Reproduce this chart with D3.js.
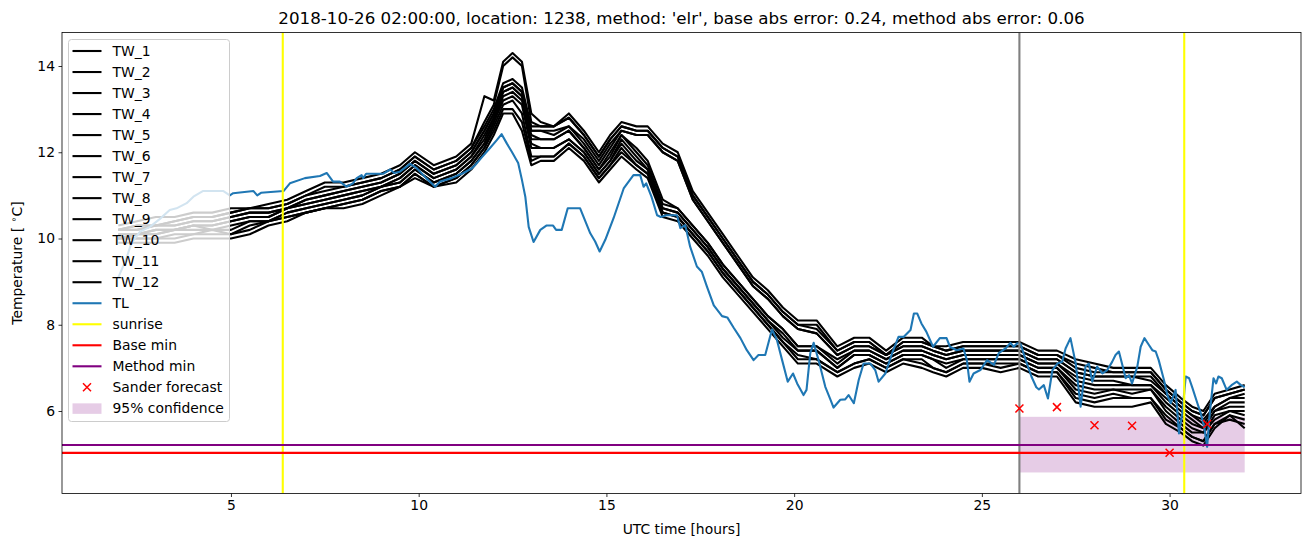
<!DOCTYPE html>
<html><head><meta charset="utf-8">
<script src="https://cdn.jsdelivr.net/npm/d3@7"></script>
<style>body{margin:0;background:#fff}svg{display:block}text{font-family:"DejaVu Sans",sans-serif;fill:#000}</style>
</head><body><svg id="c" width="1310" height="547"></svg>
<script>
// ---------------- data ----------------
const titleText = "2018-10-26 02:00:00, location: 1238, method: 'elr', base abs error: 0.24, method abs error: 0.06";
const xTicks = [5, 10, 15, 20, 25, 30];
const yTicks = [6, 8, 10, 12, 14];

const twHours = [2,2.5,3,3.5,4,4.5,5,5.5,6,6.5,7,7.5,8,8.5,9,9.5,9.9,10.4,11,11.4,11.75,12,12.25,12.5,12.75,13,13.25,13.6,14,14.4,14.8,15.1,15.4,15.8,16.1,16.5,16.9,17.3,17.7,18.1,18.5,18.9,19.3,19.7,20.1,20.6,21.15,21.6,22.0,22.45,22.9,23.4,23.7,24.05,24.5,25,25.5,26,26.5,27,27.5,28,28.5,29,29.5,29.9,30.3,30.6,30.9,31.2,31.6,32];
const tw1 = [10.3,10.4,10.5,10.5,10.6,10.6,10.7,10.7,10.8,10.9, 11.1,11.3,11.3,11.4,11.5,11.7,12.0,11.7,11.9,12.2, 13.3,13.2,14.1,14.3,14.1,12.9,12.7,12.6,12.9,12.5, 12.0,12.4,12.7,12.6,12.6,12.2,12.0,11.1,10.6,10.1, 9.6,9.1,8.8,8.4,8.1,8.1,7.5,7.7,7.7,7.4, 7.7,7.7,7.5,7.5,7.6,7.6,7.6,7.6,7.4,7.4, 7.2,7.1,7.0,7.0,7.0,6.6,6.3,6.1,6.0,6.4, 6.5,6.6];
const tw2 = [10.2,10.3,10.3,10.4,10.5,10.5,10.6,10.7,10.7,10.8, 11.0,11.2,11.2,11.3,11.4,11.6,11.9,11.6,11.8,12.1, 12.7,13.1,14.0,14.2,14.0,12.7,12.6,12.6,12.8,12.4, 11.9,12.3,12.6,12.5,12.5,12.1,11.9,11.0,10.5,10.0, 9.5,9.0,8.7,8.3,8.0,8.0,7.4,7.6,7.6,7.3, 7.6,7.6,7.5,7.4,7.5,7.5,7.5,7.5,7.3,7.3, 7.1,7.0,6.9,6.9,6.9,6.5,6.2,6.0,5.9,6.3, 6.4,6.5];
const tw3 = [10.2,10.3,10.3,10.4,10.5,10.5,10.6,10.7,10.7,10.8, 11.0,11.1,11.2,11.3,11.4,11.6,11.9,11.6,11.8,12.1, 12.6,13.0,13.6,13.7,13.5,12.6,12.6,12.6,12.8,12.4, 11.9,12.3,12.6,12.5,12.5,12.1,11.9,11.0,10.5,10.0, 9.5,9.0,8.7,8.3,8.0,7.9,7.4,7.6,7.6,7.3, 7.6,7.6,7.5,7.4,7.5,7.5,7.5,7.5,7.3,7.3, 7.0,6.9,6.9,6.9,6.9,6.5,6.2,6.0,5.9,6.3, 6.4,6.5];
const tw4 = [10.2,10.2,10.3,10.3,10.4,10.4,10.5,10.6,10.6,10.7, 10.9,11.0,11.1,11.2,11.3,11.5,11.8,11.5,11.7,12.0, 12.5,12.9,13.5,13.6,13.4,12.5,12.5,12.5,12.6,12.3, 11.8,12.2,12.5,12.4,12.4,12.0,11.8,10.9,10.4,9.9, 9.4,8.9,8.6,8.2,7.9,7.8,7.3,7.5,7.5,7.3, 7.5,7.5,7.4,7.3,7.4,7.4,7.4,7.4,7.2,7.2, 6.9,6.8,6.8,6.8,6.8,6.4,6.1,5.9,5.8,6.1, 6.3,6.4];
const tw5 = [10.2,10.2,10.3,10.3,10.4,10.4,10.5,10.6,10.6,10.7, 10.9,11.0,11.1,11.2,11.3,11.5,11.8,11.5,11.7,12.0, 12.5,12.9,13.5,13.6,13.4,12.5,12.5,12.4,12.6,12.2, 11.7,12.1,12.5,12.4,12.4,12.0,11.8,10.9,10.4,9.9, 9.4,8.9,8.6,8.2,7.9,7.8,7.3,7.5,7.5,7.3, 7.5,7.5,7.4,7.3,7.4,7.4,7.4,7.4,7.2,7.2, 6.9,6.8,6.8,6.8,6.7,6.4,6.1,5.9,5.7,6.1, 6.3,6.3];
const tw6 = [10.1,10.1,10.2,10.2,10.3,10.3,10.4,10.5,10.5,10.7, 10.8,10.9,11.0,11.1,11.2,11.4,11.7,11.4,11.6,11.9, 12.4,12.8,13.4,13.5,13.3,12.4,12.3,12.3,12.5,12.1, 11.6,12.0,12.4,12.1,11.8,10.9,10.7,10.3,9.9,9.4, 9.0,8.6,8.2,7.9,7.5,7.5,7.2,7.4,7.4,7.2, 7.4,7.4,7.3,7.2,7.3,7.3,7.3,7.3,7.1,7.1, 6.8,6.7,6.7,6.6,6.6,6.3,6.0,5.8,5.6,6.0, 6.2,6.2];
const tw7 = [10.1,10.1,10.2,10.2,10.3,10.3,10.4,10.5,10.5,10.7, 10.8,10.9,11.0,11.1,11.2,11.4,11.7,11.4,11.6,11.9, 12.3,12.8,13.4,13.5,13.3,12.3,12.3,12.3,12.5,12.1, 11.6,11.9,12.4,12.0,11.7,10.8,10.7,10.3,9.9,9.4, 9.0,8.6,8.2,7.9,7.5,7.5,7.1,7.4,7.4,7.2, 7.4,7.4,7.3,7.2,7.3,7.3,7.3,7.3,7.1,7.1, 6.7,6.6,6.6,6.6,6.6,6.2,5.9,5.7,5.6,6.0, 6.1,6.1];
const tw8 = [10.0,10.1,10.1,10.2,10.3,10.2,10.3,10.4,10.4,10.6, 10.7,10.8,10.9,11.0,11.2,11.3,11.6,11.3,11.5,11.8, 12.2,12.7,13.3,13.4,13.2,12.2,12.1,12.1,12.3,12.0, 11.5,11.8,12.3,11.9,11.6,10.7,10.6,10.2,9.8,9.3, 8.9,8.5,8.1,7.8,7.4,7.4,7.0,7.3,7.3,7.1, 7.3,7.3,7.2,7.1,7.2,7.2,7.2,7.2,7.0,7.0, 6.6,6.5,6.5,6.5,6.5,6.1,5.8,5.6,5.5,5.9, 6.0,6.0];
const tw9 = [10.0,10.1,10.1,10.2,10.2,10.2,10.2,10.4,10.4,10.6, 10.7,10.8,10.9,11.0,11.2,11.3,11.6,11.3,11.5,11.8, 12.2,12.7,13.2,13.3,13.1,12.1,12.1,12.1,12.3,12.0, 11.5,11.8,12.2,11.8,11.6,10.7,10.6,10.2,9.8,9.3, 8.9,8.5,8.1,7.7,7.4,7.4,7.0,7.3,7.3,7.1, 7.3,7.3,7.2,7.0,7.2,7.2,7.2,7.2,7.0,7.0, 6.5,6.4,6.5,6.4,6.5,6.0,5.7,5.5,5.5,5.8, 6.0,5.9];
const tw10 = [10.0,10.0,10.0,10.1,10.1,10.2,10.1,10.3,10.4,10.5, 10.6,10.7,10.8,10.9,11.1,11.2,11.5,11.2,11.4,11.7, 12.1,12.6,13.1,13.2,12.9,11.9,11.9,11.9,12.2,11.9, 11.4,11.7,12.1,11.7,11.5,10.6,10.5,10.1,9.7,9.2, 8.8,8.4,8.0,7.6,7.3,7.2,6.9,7.1,7.2,7.0, 7.2,7.2,7.0,6.9,7.1,7.1,7.1,7.1,6.9,6.9, 6.4,6.3,6.4,6.3,6.3,5.9,5.6,5.4,5.3,5.7, 5.9,5.8];
const tw11 = [10.0,10.0,10.0,10.0,10.1,10.1,10.1,10.2,10.4,10.5, 10.6,10.7,10.8,10.9,11.1,11.2,11.5,11.2,11.4,11.7, 12.1,12.5,13.0,13.0,12.7,11.8,11.9,11.9,12.2,11.9, 11.4,11.7,12.0,11.7,11.5,10.6,10.5,10.1,9.7,9.2, 8.8,8.4,8.0,7.6,7.2,7.2,6.9,7.1,7.2,7.0, 7.2,7.1,7.0,6.9,7.1,7.1,7.0,7.1,6.9,6.9, 6.3,6.2,6.3,6.3,6.3,5.8,5.6,5.4,5.3,5.7, 5.8,5.7];
const tw12 = [9.9,9.9,9.9,9.9,10.0,10.0,10.0,10.1,10.3,10.4, 10.6,10.7,10.7,10.8,11.0,11.2,11.4,11.2,11.3,11.6, 12.0,12.4,12.9,12.9,12.5,11.7,11.8,11.8,12.1,11.8, 11.3,11.6,11.9,11.6,11.4,10.5,10.4,10.0,9.6,9.1, 8.7,8.3,7.9,7.5,7.1,7.1,6.8,7.0,7.1,6.9, 7.1,7.0,6.9,6.8,7.0,7.0,6.9,7.0,6.8,6.8, 6.2,6.1,6.1,6.1,6.2,5.7,5.5,5.3,5.2,5.6, 5.9,5.6];

const tlHours = [2.0,2.2,2.35,2.58,2.84,3.1,3.37,3.55,3.82,4.0,4.25,4.8,4.97,5.06,5.6,5.7,5.8,6.4,6.57,6.97,7.37,7.55,7.72,7.9,8.08,8.25,8.35,8.48,8.52,8.6,9.05,9.24,9.35,9.5,9.77,9.95,10.2,10.44,10.57,10.88,11.19,11.42,11.5,11.68,11.9,12.08,12.21,12.35,12.48,12.65,12.75,12.84,12.93,13.06,13.24,13.4,13.58,13.66,13.81,13.97,14.3,14.57,14.7,14.82,14.97,15.19,15.46,15.72,15.9,15.99,16.06,16.2,16.35,16.45,16.6,16.88,16.97,17.1,17.23,17.41,17.54,17.68,17.86,18.08,18.22,18.39,18.57,18.74,18.92,19.05,19.23,19.41,19.54,19.68,19.83,19.97,20.08,20.25,20.33,20.43,20.52,20.65,20.83,20.97,21.05,21.23,21.36,21.45,21.59,21.72,21.85,22.03,22.16,22.25,22.43,22.61,22.78,22.92,23.1,23.19,23.28,23.39,23.52,23.7,23.88,24.06,24.15,24.33,24.51,24.6,24.67,24.78,24.96,25.14,25.32,25.45,25.63,25.76,25.85,25.94,26.03,26.16,26.32,26.45,26.52,26.65,26.76,26.88,27.01,27.14,27.23,27.36,27.5,27.63,27.76,27.85,27.94,28.07,28.21,28.34,28.47,28.56,28.65,28.74,28.83,28.92,29.0,29.14,29.23,29.33,29.45,29.54,29.63,29.71,29.85,29.94,30.03,30.16,30.25,30.34,30.43,30.52,30.61,30.74,30.83,30.92,31.0,31.07,31.17,31.24,31.3,31.39,31.52,31.65,31.79,31.9,32.0];
const tlTemp = [9.1,9.5,9.9,10.16,10.27,10.45,10.66,10.7,10.82,10.97,11.1,11.1,11.0,11.05,11.1,11.0,11.06,11.1,11.28,11.4,11.45,11.52,11.32,11.32,11.2,11.28,11.4,11.47,11.4,11.5,11.5,11.6,11.52,11.55,11.73,11.63,11.4,11.2,11.32,11.4,11.52,11.63,11.7,11.88,12.1,12.28,12.42,12.2,12.01,11.75,11.36,10.97,10.27,9.92,10.2,10.3,10.3,10.2,10.2,10.7,10.7,10.12,9.93,9.7,9.97,10.47,11.16,11.47,11.47,11.2,11.28,10.97,10.54,10.5,10.54,10.54,10.24,10.31,9.81,9.35,9.23,8.88,8.45,8.2,8.17,7.93,7.69,7.41,7.18,7.3,7.3,7.89,7.65,7.18,6.68,6.87,6.64,6.37,6.49,7.34,7.58,7.18,6.56,6.26,6.08,6.26,6.27,6.37,6.18,6.72,7.1,7.1,6.95,6.68,6.87,7.34,7.72,7.72,7.88,8.26,8.26,8.03,7.84,7.49,7.69,7.69,7.49,7.41,7.45,7.18,6.68,6.87,6.95,7.18,7.07,7.34,7.45,7.58,7.49,7.57,7.56,7.2,6.8,6.55,6.5,6.6,6.29,6.95,7.1,7.14,7.45,7.69,7.1,6.1,7.03,7.1,6.68,7.03,6.87,6.95,7.14,7.3,7.38,7.07,6.76,6.83,6.64,7.03,7.49,7.69,7.53,7.41,7.38,7.18,6.72,6.37,6.18,6.49,5.48,5.95,6.8,6.76,6.53,6.18,5.95,5.64,5.17,5.95,6.76,6.64,6.8,6.76,6.49,6.6,6.68,6.6,6.55];

const sunriseHours = [6.38, 30.39];
const forecastStartHour = 26;
const baseMin = 5.03;
const methodMin = 5.21;
const sanderHours = [26, 27, 28, 29, 30, 31];
const sanderTemp = [6.06, 6.09, 5.67, 5.66, 5.03, 5.70];
const confHours = [26, 32];
const confLow = 4.575, confHigh = 5.865;

const legendLabels = ["TW_1","TW_2","TW_3","TW_4","TW_5","TW_6","TW_7","TW_8","TW_9","TW_10","TW_11","TW_12","TL","sunrise","Base min","Method min","Sander forecast","95% confidence"];

// ---------------- drawing ----------------
const twSeries = [tw1,tw2,tw3,tw4,tw5,tw6,tw7,tw8,tw9,tw10,tw11,tw12];
const L = 62, R = 1301, T = 32.5, B = 493.5;
const svg = d3.select("#c");
const x = d3.scaleLinear().domain([0.5, 33.5]).range([L, R]);
const y = d3.scaleLinear().domain([4.087, 14.777]).range([B, T]);

svg.append("defs").append("clipPath").attr("id","clip")
  .append("rect").attr("x",L).attr("y",T).attr("width",R-L).attr("height",B-T);
const plot = svg.append("g").attr("clip-path","url(#clip)");

plot.append("rect")
  .attr("x", x(confHours[0])).attr("width", x(confHours[1]) - x(confHours[0]))
  .attr("y", y(confHigh)).attr("height", y(confLow) - y(confHigh))
  .attr("fill", "#800080").attr("fill-opacity", 0.2);

const line = d3.line();
twSeries.forEach(s => {
  plot.append("path")
    .attr("d", line(s.map((v,i)=>[x(twHours[i]), y(v)])))
    .attr("fill","none").attr("stroke","#000").attr("stroke-width",2.1)
    .attr("stroke-linejoin","round");
});
plot.append("path")
  .attr("d", line(tlTemp.map((v,i)=>[x(tlHours[i]), y(v)])))
  .attr("fill","none").attr("stroke","#1f77b4").attr("stroke-width",2.1)
  .attr("stroke-linejoin","round");

plot.append("line").attr("x1",x(forecastStartHour)).attr("x2",x(forecastStartHour))
  .attr("y1",T).attr("y2",B).attr("stroke","#808080").attr("stroke-width",2.1);
sunriseHours.forEach(h => {
  plot.append("line").attr("x1",x(h)).attr("x2",x(h)).attr("y1",T).attr("y2",B)
    .attr("stroke","#ffff00").attr("stroke-width",2.1);
});
plot.append("line").attr("x1",L).attr("x2",R).attr("y1",y(baseMin)).attr("y2",y(baseMin))
  .attr("stroke","#ff0000").attr("stroke-width",2.1);
plot.append("line").attr("x1",L).attr("x2",R).attr("y1",y(methodMin)).attr("y2",y(methodMin))
  .attr("stroke","#800080").attr("stroke-width",2.1);

function cross(g, cx, cy) {
  const s = 4;
  g.append("path").attr("d",`M${cx-s},${cy-s}L${cx+s},${cy+s}M${cx-s},${cy+s}L${cx+s},${cy-s}`)
    .attr("stroke","#ff0000").attr("stroke-width",1.5).attr("fill","none");
}
sanderHours.forEach((h,i) => cross(plot, x(h), y(sanderTemp[i])));

const xAxis = d3.axisBottom(x).tickValues(xTicks).tickSize(3.5).tickPadding(3.5).tickFormat(d3.format("d"));
const yAxis = d3.axisLeft(y).tickValues(yTicks).tickSize(3.5).tickPadding(3.5).tickFormat(d3.format("d"));
const gx = svg.append("g").attr("transform",`translate(0,${B})`).call(xAxis);
const gy = svg.append("g").attr("transform",`translate(${L},0)`).call(yAxis);
[gx,gy].forEach(g => {
  g.select(".domain").remove();
  g.selectAll(".tick line").attr("stroke","#000").attr("stroke-width",0.8);
  g.selectAll(".tick text").attr("font-size","13.9px").attr("font-family","DejaVu Sans").attr("fill","#000");
});
svg.append("rect").attr("x",L).attr("y",T).attr("width",R-L).attr("height",B-T)
  .attr("fill","none").attr("stroke","#000").attr("stroke-width",0.8);

svg.append("text").attr("x",(L+R)/2).attr("y",23.5).attr("text-anchor","middle")
  .attr("font-size","16.7px").text(titleText);
svg.append("text").attr("x",(L+R)/2).attr("y",534).attr("text-anchor","middle")
  .attr("font-size","13.9px").text("UTC time [hours]");
const yl = svg.append("text").attr("transform",`translate(22,${(T+B)/2}) rotate(-90)`)
  .attr("text-anchor","middle").attr("font-size","13.9px");
yl.append("tspan").text("Temperature [ ");
yl.append("tspan").attr("font-size","9.7px").attr("dy","-5").text("\u2218");
yl.append("tspan").attr("dy","5").text("C]");

const lg = svg.append("g");
lg.append("rect").attr("x",68.5).attr("y",39.5).attr("width",161).attr("height",382).attr("rx",3)
  .attr("fill","#fff").attr("fill-opacity",0.8).attr("stroke","#cccccc").attr("stroke-width",1);
const legendStyles = legendLabels.map((lab,i) => {
  if (i < 12) return {type:"line", color:"#000"};
  return [{type:"line",color:"#1f77b4"},{type:"line",color:"#ffff00"},{type:"line",color:"#ff0000"},
          {type:"line",color:"#800080"},{type:"marker"},{type:"patch"}][i-12];
});
legendLabels.forEach((lab,i) => {
  const cy = 51 + i*21.02;
  const st = legendStyles[i];
  if (st.type === "line") {
    lg.append("line").attr("x1",72.5).attr("x2",101.5).attr("y1",cy).attr("y2",cy)
      .attr("stroke",st.color).attr("stroke-width",2.1);
  } else if (st.type === "marker") {
    cross(lg, 87, cy);
  } else {
    lg.append("rect").attr("x",72.5).attr("y",cy-5).attr("width",29).attr("height",10.5)
      .attr("fill","#800080").attr("fill-opacity",0.2);
  }
  lg.append("text").attr("x",112.5).attr("y",cy+5).attr("font-size","13.9px").text(lab);
});
</script></body></html>
